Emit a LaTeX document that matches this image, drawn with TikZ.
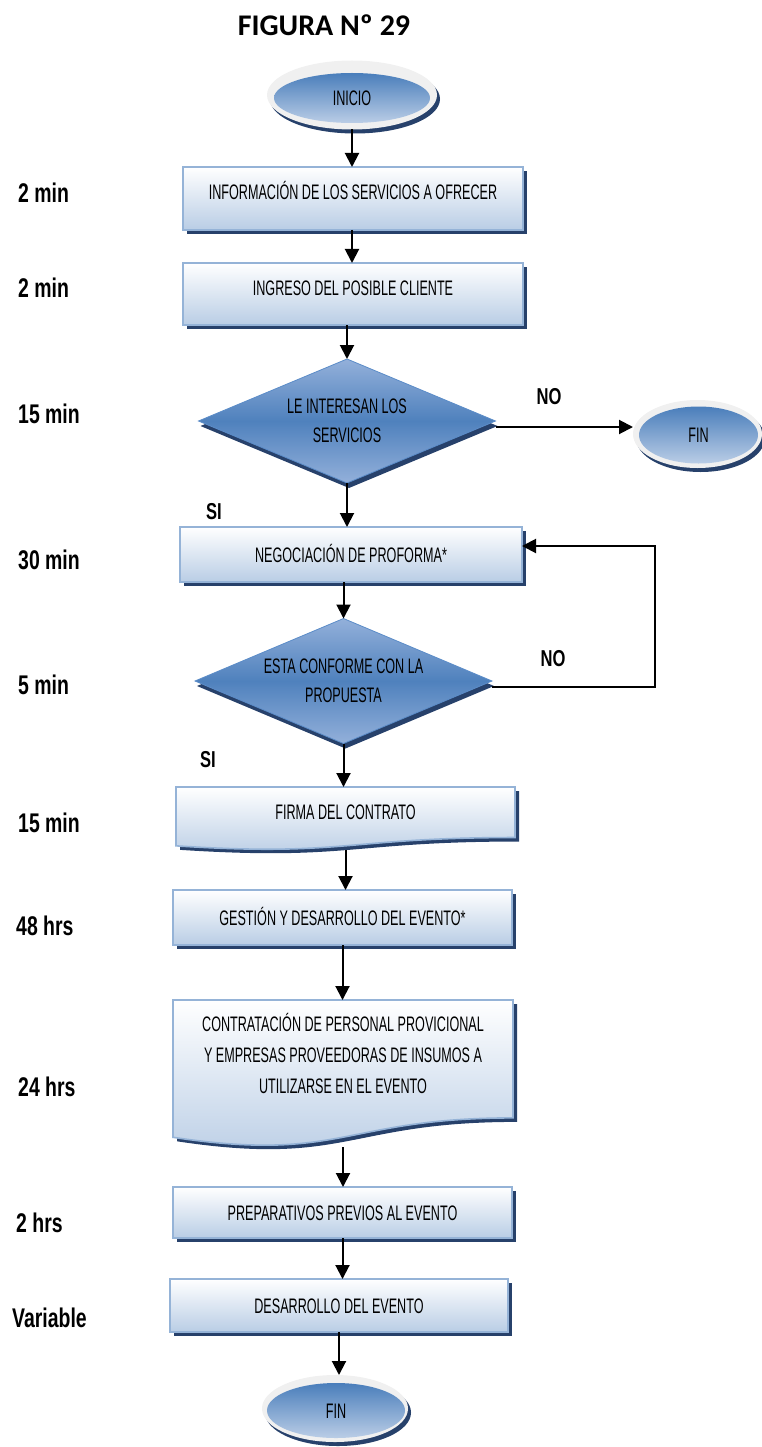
\documentclass[tikz,border=0pt]{standalone}
\usepackage{fontspec}
\setmainfont[FakeStretch=0.6]{Liberation Sans}
\newfontfamily\lblfont[FakeStretch=0.72]{Liberation Sans}
\newfontfamily\titlefont{Carlito}
\usetikzlibrary{shapes.geometric,shadows,arrows.meta,calc}
\definecolor{shadowblue}{HTML}{27416B}
\definecolor{boxborder}{HTML}{95B3D7}
\definecolor{boxbottom}{HTML}{B9CDE5}
\definecolor{ellTop}{HTML}{4A7EBB}
\definecolor{ellBot}{HTML}{BACDE6}
\definecolor{rimcol}{HTML}{F0F0F0}
\definecolor{diaMid}{HTML}{4F81BD}
\definecolor{diaEdge}{HTML}{93B0DA}
\definecolor{diaBorder}{HTML}{5B8CC8}
\newcommand\docpath[1]{(#1.north west) -- (#1.north east) -- ($(#1.north east)!0.802!(#1.south east)$) .. controls ($(#1.north)!0.802!(#1.south)$) and ($(#1.north)!1.108!(#1.south)$) .. ($(#1.north west)!0.934!(#1.south west)$) -- cycle}
\tikzset{
  btext/.style={font=\fontsize{21}{29}\selectfont, text=black, inner sep=0pt, outer sep=0pt},
  single/.style={btext, text height=15.3pt, text depth=0pt},
  procbox/.style={rectangle, draw=boxborder, line width=1.6pt, top color=white, bottom color=boxbottom,
    drop shadow={shadow xshift=4pt, shadow yshift=-4pt, fill=shadowblue, opacity=1}, single},
  docbox/.style={rectangle, draw=none, inner sep=0pt, outer sep=0pt},
  docfill/.style={top color=white, bottom color=boxbottom, draw=boxborder, line width=1.6pt},
  rimell/.style={ellipse, fill=rimcol, draw=none, inner sep=0pt, outer sep=0pt,
    drop shadow={shadow xshift=3pt, shadow yshift=-4pt, fill=shadowblue, opacity=1}},
  innerell/.style={ellipse, top color=ellTop, bottom color=ellBot, draw=none, single},
  decision/.style={diamond, draw=diaBorder, line width=0.8pt, top color=diaEdge, bottom color=diaEdge, middle color=diaMid,
    drop shadow={shadow xshift=2pt, shadow yshift=-5pt, fill=shadowblue, opacity=1},
    align=center, btext},
  timelbl/.style={font=\lblfont\bfseries\fontsize{27}{27}\selectfont, anchor=west, inner sep=0pt, text height=19.7pt, text depth=0pt},
  yesno/.style={font=\lblfont\bfseries\fontsize{23}{23}\selectfont, inner sep=0pt, text height=16.8pt, text depth=0pt},
  arr/.style={draw=black, line width=2pt, -{Triangle[length=14pt,width=14pt]}},
}
\begin{document}
\begin{tikzpicture}[x=1pt,y=-1pt]
\useasboundingbox (0,0) rectangle (761,1447);

% title
\node[font=\titlefont\bfseries\fontsize{30}{30}\selectfont, inner sep=0pt] (title) at (324,25) {FIGURA Nº 29};

% time labels
\node[timelbl] (t1) at (18,193) {2 min};
\node[timelbl] (t2) at (18,288) {2 min};
\node[timelbl] (t3) at (18,414) {15 min};
\node[timelbl] (t4) at (18,560) {30 min};
\node[timelbl] (t5) at (18,685) {5 min};
\node[timelbl] (t6) at (18,823) {15 min};
\node[timelbl] (t7) at (16,926) {48 hrs};
\node[timelbl] (t8) at (18,1087) {24 hrs};
\node[timelbl] (t9) at (16,1223) {2 hrs};
\node[timelbl] (t10) at (12,1318) {Variable};

% INICIO
\node[rimell, minimum width=170pt, minimum height=69pt] (inicioR) at (352,95) {};
\node[innerell, minimum width=156pt, minimum height=50pt] (inicio) at (352,98) {INICIO};

% box 1
\node[procbox, minimum width=340pt, minimum height=63pt] (box1) at (353,198.5) {};
\node[single] (box1t) at (353,192) {INFORMACIÓN DE LOS SERVICIOS A OFRECER};

% box 2
\node[procbox, minimum width=340pt, minimum height=62pt] (box2) at (353,294) {};
\node[single] (box2t) at (353,288) {INGRESO DEL POSIBLE CLIENTE};

% decision 1
\node[decision, minimum width=297pt, minimum height=124pt, aspect=2.4] (d1) at (347,421) {LE INTERESAN LOS\\SERVICIOS};

% FIN 1
\node[rimell, minimum width=129pt, minimum height=68pt] (fin1R) at (697.5,434) {};
\node[innerell, minimum width=119pt, minimum height=57pt] (fin1) at (698.5,435) {FIN};

% box 3
\node[procbox, minimum width=342pt, minimum height=55pt] (box3) at (351,554.5) {NEGOCIACIÓN DE PROFORMA*};

% decision 2
\node[decision, minimum width=297pt, minimum height=125pt, aspect=2.4] (d2) at (343.5,681) {ESTA CONFORME CON LA\\PROPUESTA};

% box 4 (document)
\node[docbox, minimum width=339pt, minimum height=63pt] (box4) at (345.5,818.5) {};
\begin{scope}[transform canvas={shift={(4pt,-4pt)}}]
  \fill[shadowblue] \docpath{box4};
\end{scope}
\path[docfill] \docpath{box4};
\node[single] (box4t) at (345.5,812) {FIRMA DEL CONTRATO};

% box 5
\node[procbox, minimum width=339pt, minimum height=55pt] (box5) at (342.5,917.5) {GESTIÓN Y DESARROLLO DEL EVENTO*};

% box 6 (document)
\node[docbox, minimum width=340pt, minimum height=147pt] (box6) at (343,1073.5) {};
\begin{scope}[transform canvas={shift={(4pt,-4pt)}}]
  \fill[shadowblue] \docpath{box6};
\end{scope}
\path[docfill] \docpath{box6};
\node[btext, align=center, font=\fontsize{21}{31}\selectfont] (box6t) at (343,1053) {CONTRATACIÓN DE PERSONAL PROVICIONAL\\Y EMPRESAS PROVEEDORAS DE INSUMOS A\\UTILIZARSE EN EL EVENTO};

% box 7
\node[procbox, minimum width=339pt, minimum height=51pt] (box7) at (342.5,1212.5) {PREPARATIVOS PREVIOS AL EVENTO};

% box 8
\node[procbox, minimum width=338pt, minimum height=53pt] (box8) at (339,1305.5) {DESARROLLO DEL EVENTO};

% FIN 2
\node[rimell, minimum width=146pt, minimum height=67pt] (fin2R) at (335,1408.5) {};
\node[innerell, minimum width=138pt, minimum height=55pt] (fin2) at (336,1410.5) {FIN};

% yes/no labels
\node[yesno] (no1) at (549,396) {NO};
\node[yesno] (si1) at (214,511) {SI};
\node[yesno] (no2) at (553,658) {NO};
\node[yesno] (si2) at (208,759) {SI};

% connectors
\draw[arr] (inicioR.south) -- (inicioR.south |- box1.north);
\draw[arr] (inicioR.south |- box1.south) -- (inicioR.south |- box2.north);
\draw[arr] (d1.north |- box2.south) -- (d1.north);
\coordinate (d1out) at ([yshift=-6pt]d1.east);
\draw[arr] (d1out) -- (d1out -| fin1R.west);
\draw[arr] (d1.south) -- (d1.south |- box3.north);
\draw[arr] (d2.north |- box3.south) -- (d2.north);
\coordinate (d2out) at ([yshift=-6pt]d2.east);
\coordinate (loopc) at (655,546);
\draw[arr] (d2out) -| (loopc) -- (loopc -| box3.east);
\draw[arr] (d2.south) -- (d2.south |- box4.north);
\draw[arr] (box4.south) -- (box4.south |- box5.north);
\draw[arr] (box5.south) -- (box5.south |- box6.north);
\draw[arr] (box6.south) -- (box6.south |- box7.north);
\draw[arr] (box7.south) -- (box7.south |- box8.north);
\draw[arr] (box8.south) -- (box8.south |- fin2R.north);
\end{tikzpicture}
\end{document}
